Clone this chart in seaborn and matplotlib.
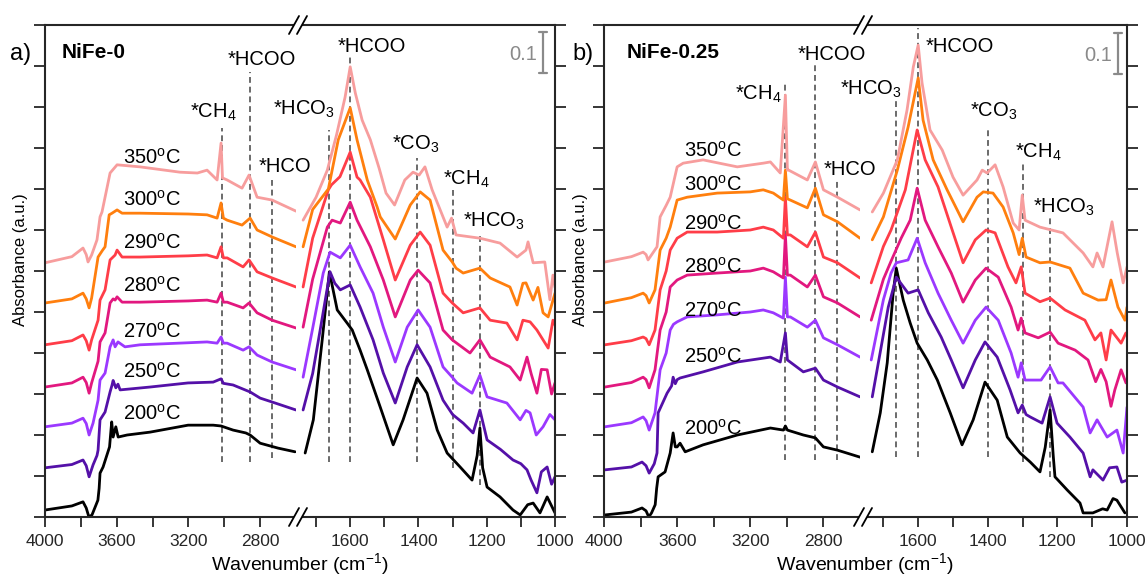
import matplotlib
matplotlib.use("Agg")
import matplotlib.pyplot as plt
import pandas as pd
import seaborn as sns
from matplotlib.lines import Line2D
from matplotlib.patches import Rectangle

# ---------------- data ----------------
TEMPS = [200, 250, 270, 280, 290, 300, 350]
COLORS = ["#000000", "#5410a8", "#9b38ff", "#e2187f", "#ff3d48", "#ff7f0e", "#f79d9d"]

# Panel a (NiFe-0), high-wavenumber segment (4000-2600 cm-1): (wavenumber, absorbance)
a_L_200 = [(4000,0.017),(3850,0.027),(3788,0.037),(3770,0.022),(3755,0.0),(3738,0.005),(3715,0.030),(3705,0.041),(3698,0.070),(3693,0.107),(3676,0.122),(3640,0.171),(3628,0.232),(3620,0.195),(3605,0.220),(3592,0.195),(3542,0.200),(3414,0.207),(3202,0.224),(3062,0.224),(3018,0.222),(2951,0.212),(2880,0.205),(2856,0.200),(2800,0.180),(2700,0.168),(2605,0.159)]
a_L_250 = [(4000,0.120),(3850,0.128),(3788,0.139),(3770,0.125),(3754,0.098),(3732,0.127),(3710,0.150),(3704,0.163),(3693,0.237),(3665,0.256),(3637,0.305),(3626,0.322),(3620,0.333),(3605,0.315),(3593,0.324),(3581,0.310),(3414,0.317),(3202,0.327),(3062,0.329),(3018,0.337),(3005,0.326),(2951,0.322),(2856,0.305),(2800,0.290),(2730,0.280),(2600,0.261)]
a_L_270 = [(4000,0.220),(3850,0.229),(3788,0.241),(3770,0.228),(3754,0.200),(3732,0.229),(3704,0.285),(3693,0.334),(3665,0.351),(3637,0.415),(3620,0.432),(3609,0.415),(3593,0.427),(3554,0.415),(3470,0.420),(3200,0.425),(3096,0.427),(3040,0.424),(3018,0.439),(3005,0.424),(2984,0.424),(2895,0.407),(2862,0.415),(2817,0.395),(2733,0.378),(2600,0.359)]
a_L_280 = [(4000,0.317),(3850,0.327),(3788,0.341),(3770,0.328),(3754,0.302),(3740,0.327),(3704,0.380),(3693,0.427),(3665,0.449),(3637,0.522),(3620,0.532),(3609,0.529),(3598,0.537),(3570,0.524),(3470,0.524),(3200,0.527),(3096,0.529),(3040,0.524),(3018,0.546),(3005,0.524),(2984,0.524),(2895,0.510),(2862,0.522),(2817,0.498),(2733,0.480),(2600,0.461)]
a_L_290 = [(4000,0.420),(3850,0.430),(3788,0.444),(3770,0.430),(3754,0.407),(3740,0.432),(3704,0.480),(3693,0.529),(3665,0.554),(3637,0.627),(3609,0.639),(3598,0.651),(3570,0.634),(3470,0.634),(3200,0.637),(3096,0.639),(3040,0.632),(3018,0.659),(3005,0.632),(2984,0.632),(2895,0.610),(2862,0.627),(2817,0.598),(2733,0.583),(2600,0.561)]
a_L_300 = [(4000,0.522),(3850,0.532),(3788,0.546),(3770,0.532),(3754,0.510),(3740,0.534),(3704,0.634),(3680,0.650),(3665,0.659),(3642,0.737),(3626,0.741),(3598,0.749),(3570,0.741),(3470,0.741),(3200,0.739),(3096,0.737),(3040,0.729),(3018,0.766),(3005,0.729),(2984,0.724),(2901,0.712),(2856,0.729),(2817,0.700),(2733,0.683),(2600,0.659)]
a_L_350 = [(4000,0.620),(3850,0.635),(3788,0.656),(3770,0.640),(3760,0.622),(3740,0.639),(3710,0.676),(3693,0.732),(3682,0.744),(3637,0.839),(3598,0.859),(3470,0.854),(3247,0.841),(3150,0.839),(3096,0.846),(3040,0.822),(3018,0.912),(3010,0.827),(2984,0.822),(2901,0.802),(2862,0.834),(2817,0.780),(2733,0.773),(2600,0.746)]

# Panel a, low-wavenumber segment (1750-1000 cm-1)
a_R_200 = [(1732,0.156),(1708,0.237),(1682,0.432),(1661,0.598),(1638,0.505),(1609,0.473),(1594,0.456),(1571,0.407),(1550,0.359),(1512,0.268),(1474,0.176),(1445,0.237),(1404,0.339),(1375,0.302),(1345,0.212),(1316,0.156),(1278,0.122),(1243,0.090),(1228,0.150),(1220,0.217),(1212,0.120),(1199,0.073),(1161,0.049),(1123,0.017),(1102,0.005),(1080,0.030),(1064,0.034),(1044,0.010),(1023,0.049),(1000,0.010)]
a_R_250 = [(1738,0.261),(1710,0.350),(1688,0.456),(1659,0.598),(1645,0.570),(1629,0.554),(1600,0.566),(1571,0.512),(1533,0.432),(1503,0.351),(1468,0.278),(1433,0.366),(1404,0.420),(1366,0.366),(1328,0.285),(1300,0.250),(1269,0.229),(1240,0.205),(1220,0.261),(1199,0.188),(1160,0.165),(1123,0.139),(1100,0.130),(1082,0.115),(1070,0.090),(1053,0.059),(1040,0.110),(1023,0.122),(1010,0.080),(1000,0.098)]
a_R_270 = [(1738,0.341),(1710,0.460),(1679,0.595),(1659,0.646),(1629,0.632),(1600,0.663),(1571,0.610),(1533,0.546),(1503,0.463),(1468,0.378),(1433,0.463),(1401,0.505),(1366,0.463),(1328,0.366),(1300,0.340),(1287,0.327),(1243,0.302),(1220,0.346),(1199,0.293),(1141,0.278),(1102,0.237),(1085,0.260),(1073,0.254),(1055,0.200),(1035,0.220),(1015,0.250),(1000,0.237)]
a_R_280 = [(1738,0.463),(1710,0.580),(1667,0.707),(1653,0.724),(1629,0.717),(1600,0.768),(1580,0.724),(1541,0.659),(1503,0.578),(1468,0.488),(1424,0.578),(1401,0.602),(1366,0.571),(1328,0.456),(1301,0.432),(1249,0.400),(1220,0.432),(1190,0.390),(1132,0.366),(1102,0.334),(1082,0.390),(1070,0.350),(1053,0.302),(1040,0.360),(1023,0.359),(1010,0.300),(1000,0.327)]
a_R_290 = [(1738,0.561),(1710,0.680),(1664,0.798),(1655,0.810),(1630,0.830),(1600,0.890),(1580,0.829),(1571,0.822),(1541,0.780),(1503,0.676),(1468,0.578),(1424,0.663),(1395,0.695),(1366,0.663),(1328,0.546),(1301,0.522),(1269,0.498),(1220,0.510),(1190,0.480),(1141,0.473),(1111,0.432),(1094,0.480),(1073,0.476),(1053,0.456),(1035,0.432),(1020,0.412),(1006,0.480),(1000,0.468)]
a_R_300 = [(1738,0.659),(1710,0.750),(1664,0.800),(1635,0.920),(1600,0.998),(1580,0.920),(1550,0.822),(1521,0.756),(1512,0.732),(1468,0.678),(1424,0.761),(1395,0.793),(1366,0.773),(1328,0.651),(1301,0.622),(1290,0.607),(1269,0.595),(1220,0.607),(1190,0.583),(1132,0.561),(1111,0.517),(1094,0.570),(1085,0.571),(1064,0.529),(1050,0.560),(1035,0.498),(1020,0.488),(1000,0.546)]
a_R_350 = [(1738,0.724),(1700,0.780),(1667,0.846),(1640,0.932),(1615,1.024),(1600,1.098),(1585,1.034),(1565,0.968),(1541,0.920),(1515,0.850),(1495,0.790),(1470,0.761),(1440,0.822),(1416,0.841),(1398,0.834),(1381,0.854),(1360,0.798),(1316,0.707),(1303,0.729),(1290,0.688),(1220,0.680),(1161,0.668),(1111,0.634),(1085,0.651),(1079,0.671),(1064,0.620),(1030,0.622),(1015,0.530),(1006,0.590),(1000,0.560)]

# Panel b (NiFe-0.25), high-wavenumber segment
b_L_200 = [(3995,0.005),(3850,0.012),(3792,0.022),(3770,0.015),(3755,0.0),(3740,0.010),(3720,0.030),(3712,0.070),(3704,0.098),(3666,0.110),(3638,0.156),(3622,0.205),(3610,0.171),(3600,0.171),(3584,0.180),(3556,0.159),(3458,0.176),(3271,0.200),(3090,0.217),(3019,0.212),(3008,0.222),(2997,0.212),(2910,0.200),(2844,0.193),(2800,0.171),(2723,0.163),(2600,0.146)]
b_L_250 = [(3995,0.115),(3850,0.122),(3792,0.134),(3770,0.125),(3753,0.107),(3725,0.130),(3710,0.156),(3704,0.254),(3655,0.302),(3630,0.320),(3622,0.341),(3610,0.325),(3600,0.335),(3584,0.339),(3458,0.354),(3271,0.378),(3090,0.390),(3036,0.378),(3008,0.449),(2997,0.383),(2910,0.354),(2844,0.363),(2800,0.334),(2723,0.317),(2600,0.293)]
b_L_270 = [(3995,0.220),(3850,0.230),(3786,0.244),(3770,0.235),(3753,0.212),(3721,0.254),(3693,0.359),(3660,0.400),(3638,0.456),(3620,0.470),(3600,0.476),(3545,0.488),(3381,0.493),(3200,0.500),(3129,0.505),(3074,0.498),(3019,0.485),(3008,0.585),(2997,0.488),(2981,0.488),(2888,0.463),(2844,0.480),(2800,0.437),(2723,0.420),(2600,0.390)]
b_L_280 = [(3995,0.317),(3850,0.328),(3786,0.341),(3770,0.335),(3753,0.315),(3721,0.359),(3693,0.456),(3660,0.500),(3638,0.561),(3600,0.578),(3545,0.590),(3381,0.595),(3200,0.600),(3129,0.607),(3074,0.598),(3019,0.583),(3008,0.688),(2997,0.590),(2981,0.590),(2888,0.561),(2844,0.590),(2800,0.537),(2723,0.522),(2600,0.488)]
b_L_290 = [(3995,0.420),(3850,0.430),(3786,0.439),(3770,0.435),(3753,0.420),(3721,0.456),(3693,0.554),(3660,0.600),(3638,0.651),(3600,0.680),(3545,0.695),(3381,0.695),(3200,0.700),(3129,0.707),(3074,0.700),(3019,0.680),(3008,0.780),(2997,0.688),(2981,0.688),(2888,0.659),(2844,0.695),(2800,0.634),(2723,0.620),(2600,0.583)]
b_L_300 = [(3995,0.522),(3850,0.535),(3786,0.546),(3770,0.540),(3753,0.522),(3721,0.554),(3693,0.651),(3660,0.680),(3638,0.707),(3600,0.773),(3545,0.780),(3381,0.790),(3200,0.793),(3129,0.798),(3074,0.790),(3019,0.773),(3008,0.846),(2997,0.776),(2981,0.773),(2888,0.754),(2844,0.802),(2800,0.737),(2723,0.720),(2600,0.680)]
b_L_350 = [(3995,0.622),(3850,0.635),(3786,0.646),(3770,0.640),(3759,0.627),(3710,0.659),(3693,0.732),(3660,0.760),(3638,0.780),(3600,0.854),(3567,0.863),(3458,0.871),(3271,0.854),(3129,0.863),(3090,0.866),(3036,0.839),(3008,1.029),(2997,0.846),(2990,0.846),(2888,0.822),(2844,0.866),(2800,0.798),(2723,0.780),(2600,0.749)]

# Panel b, low-wavenumber segment
b_R_200 = [(1732,0.159),(1709,0.254),(1689,0.376),(1672,0.546),(1663,0.607),(1643,0.529),(1623,0.473),(1603,0.424),(1574,0.383),(1545,0.334),(1508,0.254),(1474,0.176),(1442,0.237),(1408,0.329),(1373,0.285),(1344,0.195),(1307,0.156),(1278,0.134),(1250,0.110),(1235,0.170),(1221,0.261),(1212,0.150),(1207,0.098),(1172,0.066),(1135,0.034),(1126,0.010),(1098,0.010),(1070,0.020),(1057,0.017),(1040,0.045),(1029,0.041),(1006,0.010)]
b_R_250 = [(1732,0.293),(1686,0.512),(1663,0.585),(1629,0.546),(1600,0.554),(1571,0.498),(1534,0.439),(1505,0.383),(1471,0.315),(1436,0.383),(1408,0.427),(1373,0.390),(1336,0.310),(1313,0.254),(1301,0.273),(1290,0.250),(1278,0.244),(1244,0.229),(1221,0.293),(1201,0.229),(1164,0.195),(1126,0.156),(1106,0.098),(1098,0.115),(1069,0.090),(1050,0.120),(1029,0.122),(1015,0.085),(1000,0.090)]
b_R_270 = [(1735,0.383),(1700,0.530),(1678,0.595),(1663,0.620),(1629,0.627),(1603,0.680),(1580,0.620),(1543,0.546),(1505,0.480),(1471,0.424),(1436,0.480),(1405,0.512),(1370,0.480),(1333,0.400),(1313,0.341),(1304,0.376),(1293,0.334),(1247,0.334),(1221,0.366),(1198,0.327),(1184,0.327),(1126,0.268),(1106,0.205),(1086,0.237),(1057,0.195),(1029,0.212),(1011,0.156),(1000,0.268)]
b_R_280 = [(1735,0.480),(1700,0.580),(1678,0.624),(1649,0.680),(1623,0.724),(1603,0.802),(1580,0.724),(1543,0.659),(1505,0.595),(1471,0.524),(1436,0.578),(1405,0.607),(1370,0.585),(1333,0.512),(1313,0.456),(1304,0.485),(1293,0.449),(1255,0.437),(1221,0.451),(1198,0.424),(1149,0.407),(1112,0.383),(1090,0.330),(1075,0.360),(1060,0.330),(1046,0.270),(1035,0.310),(1017,0.359),(1003,0.327)]
b_R_290 = [(1735,0.571),(1700,0.660),(1678,0.700),(1637,0.798),(1603,0.944),(1580,0.871),(1543,0.805),(1505,0.707),(1471,0.620),(1436,0.676),(1405,0.700),(1379,0.693),(1342,0.610),(1319,0.571),(1304,0.610),(1293,0.546),(1250,0.525),(1221,0.534),(1178,0.505),(1121,0.480),(1092,0.432),(1075,0.449),(1060,0.383),(1046,0.456),(1017,0.424),(1003,0.449)]
b_R_300 = [(1732,0.676),(1700,0.732),(1660,0.846),(1629,0.951),(1600,1.071),(1586,0.968),(1557,0.871),(1517,0.798),(1488,0.749),(1471,0.720),(1431,0.780),(1413,0.793),(1385,0.790),(1356,0.756),(1327,0.693),(1310,0.640),(1301,0.680),(1290,0.634),(1250,0.620),(1221,0.622),(1164,0.607),(1126,0.546),(1083,0.529),(1060,0.530),(1046,0.578),(1026,0.512),(1006,0.480),(1000,0.512)]
b_R_350 = [(1732,0.744),(1700,0.790),(1660,0.871),(1632,0.993),(1614,1.098),(1600,1.151),(1589,1.059),(1566,0.944),(1531,0.895),(1500,0.829),(1471,0.785),(1431,0.822),(1416,0.846),(1402,0.839),(1379,0.859),(1356,0.805),(1327,0.717),(1310,0.700),(1301,0.785),(1293,0.724),(1250,0.707),(1184,0.693),(1126,0.644),(1098,0.610),(1086,0.644),(1069,0.610),(1043,0.720),(1028,0.644),(1011,0.571),(1000,0.610)]

# axis ranges / ticks
XLIM_HIGH = (4000, 2600)
XLIM_LOW = (1750, 1000)
XTICKS_HIGH = [4000, 3800, 3600, 3400, 3200, 3000, 2800]
XTICKLABELS_HIGH = ["4000", "", "3600", "", "3200", "", "2800"]
XTICKS_LOW = [1700, 1600, 1500, 1400, 1300, 1200, 1100, 1000]
XTICKLABELS_LOW = ["", "1600", "", "1400", "", "1200", "", "1000"]
YLIM = (0, 1.2)
YTICKS = [0, 0.1, 0.2, 0.3, 0.4, 0.5, 0.6, 0.7, 0.8, 0.9, 1.0, 1.1, 1.2]

# assignment markers: (wavenumber, top, bottom)
a_lines_high = [(3015, 0.949, 0.134), (2855, 1.085, 0.134), (2732, 0.822, 0.144)]
a_lines_low = [(1662, 0.944, 0.134), (1600, 1.127, 0.134), (1404, 0.876, 0.134), (1300, 0.798, 0.120), (1220, 0.693, 0.078)]
b_lines_high = [(3008, 1.059, 0.139), (2845, 1.102, 0.139), (2725, 0.822, 0.139)]
b_lines_low = [(1663, 1.017, 0.146), (1600, 1.193, 0.146), (1400, 0.951, 0.146), (1300, 0.863, 0.134), (1220, 0.729, 0.098)]

# assignment labels: (text, x, baseline y)
a_text_high = [("*CH$_4$", 3191, 0.973), ("*HCOO", 2979, 1.102), ("*HCO", 2811, 0.841)]
a_text_low = [("*HCO$_3$", 1825, 0.980), ("*HCOO", 1638, 1.134), ("*CO$_3$", 1477, 0.895), ("*CH$_4$", 1328, 0.810), ("*HCO$_3$", 1269, 0.707)]
b_text_high = [("*CH$_4$", 3282, 1.017), ("*HCOO", 2942, 1.115), ("*HCO", 2800, 0.834)]
b_text_low = [("*HCO$_3$", 1824, 1.029), ("*HCOO", 1580, 1.134), ("*CO$_3$", 1451, 0.976), ("*CH$_4$", 1322, 0.876), ("*HCO$_3$", 1270, 0.741)]

# temperature labels (baseline y), x position
a_temp_y = [0.237, 0.339, 0.437, 0.549, 0.654, 0.759, 0.861]
b_temp_y = [0.200, 0.376, 0.488, 0.595, 0.700, 0.795, 0.878]
a_temp_x = 3565
b_temp_x = 3560

SCALE = 0.1
a_scale = (1035, 1.083)   # x, bottom
b_scale = (1026, 1.080)

# ---------------- style ----------------
sns.set_style("ticks")
plt.rcParams["font.family"] = ["Liberation Sans", "DejaVu Sans"]
plt.rcParams["mathtext.fontset"] = "custom"
plt.rcParams["mathtext.rm"] = "Liberation Sans"
plt.rcParams["mathtext.it"] = "Liberation Sans:italic"
plt.rcParams["mathtext.bf"] = "Liberation Sans:bold"
plt.rcParams["mathtext.default"] = "regular"
plt.rcParams["axes.linewidth"] = 1.5
plt.rcParams["text.color"] = "black"

W, H = 1146, 575
fig = plt.figure(figsize=(W / 100, H / 100), dpi=100)


def rect(x0, x1, y0=25, y1=517):
    return [x0 / W, 1 - y1 / H, (x1 - x0) / W, (y1 - y0) / H]


def to_df(series):
    rows = []
    for t, pts in zip(TEMPS, series):
        for wn, a in pts:
            rows.append((str(t), wn, a))
    return pd.DataFrame(rows, columns=["T", "wn", "A"])


PALETTE = {str(t): c for t, c in zip(TEMPS, COLORS)}
HUE_ORDER = [str(t) for t in TEMPS]
DASH_COLOR = "#6a6a6a"


def draw_segment(ax, series, xlim, xticks, xlabels, side, vlines, texts):
    ax.patch.set_visible(False)
    for wn, top, bot in vlines:
        ax.vlines(wn, bot, top, colors=DASH_COLOR, linestyles=(0, (3, 2)), lw=1.4, zorder=1)
    sns.lineplot(data=to_df(series), x="wn", y="A", hue="T", palette=PALETTE,
                 hue_order=HUE_ORDER, estimator=None, sort=False, lw=2.0,
                 legend=False, ax=ax, zorder=2)
    ax.set_xlim(*xlim)
    ax.set_ylim(*YLIM)
    ax.set_xticks(xticks)
    ax.set_xticklabels(xlabels)
    ax.set_yticks(YTICKS)
    ax.set_yticklabels([])
    ax.set_xlabel("")
    ax.set_ylabel("")
    ax.tick_params(axis="x", direction="out", length=7, width=1.3, labelsize=12.5, pad=5, top=False)
    if side == "left":
        ax.spines["right"].set_visible(False)
        ax.tick_params(axis="y", direction="out", length=8, width=1.3, left=True, right=False)
    else:
        ax.spines["left"].set_visible(False)
        ax.yaxis.set_ticks_position("right")
        ax.tick_params(axis="y", direction="out", length=8, width=1.3, left=False, right=True,
                       labelright=False)
    for txt, x, y in texts:
        ax.text(x, y, txt, fontsize=14.5, ha="left", va="baseline", clip_on=False, zorder=5)


def break_marks(xc):
    for y in (25, 517):
        fig.add_artist(Rectangle(((xc - 4) / W, 1 - (y + 3) / H), 8 / W, 6 / H,
                                 transform=fig.transFigure, facecolor="white",
                                 edgecolor="none", zorder=20))
        for dx in (-4, 4):
            x = xc + dx
            fig.add_artist(Line2D([(x - 5) / W, (x + 5) / W], [1 - (y + 9) / H, 1 - (y - 9) / H],
                                  transform=fig.transFigure, color="black", lw=1.3, zorder=21))


panels = [
    dict(hx=(45, 296), lx=(299, 555), brk=298,
         high=[a_L_200, a_L_250, a_L_270, a_L_280, a_L_290, a_L_300, a_L_350],
         low=[a_R_200, a_R_250, a_R_270, a_R_280, a_R_290, a_R_300, a_R_350],
         vh=a_lines_high, vl=a_lines_low, th=a_text_high, tl=a_text_low,
         ty=a_temp_y, tx=a_temp_x, scale=a_scale, tag="a)", name="NiFe-0",
         tagx=10, namex=62, ylab=21, xlab=300),
    dict(hx=(604, 860), lx=(866, 1127), brk=863,
         high=[b_L_200, b_L_250, b_L_270, b_L_280, b_L_290, b_L_300, b_L_350],
         low=[b_R_200, b_R_250, b_R_270, b_R_280, b_R_290, b_R_300, b_R_350],
         vh=b_lines_high, vl=b_lines_low, th=b_text_high, tl=b_text_low,
         ty=b_temp_y, tx=b_temp_x, scale=b_scale, tag="b)", name="NiFe-0.25",
         tagx=572, namex=627, ylab=580, xlab=865),
]

for p in panels:
    axh = fig.add_axes(rect(*p["hx"]))
    axl = fig.add_axes(rect(*p["lx"]))
    draw_segment(axh, p["high"], XLIM_HIGH, XTICKS_HIGH, XTICKLABELS_HIGH, "left", p["vh"], p["th"])
    draw_segment(axl, p["low"], XLIM_LOW, XTICKS_LOW, XTICKLABELS_LOW, "right", p["vl"], p["tl"])
    for t, y in zip(TEMPS, p["ty"]):
        axh.text(p["tx"], y, f"{t}$^o$C", fontsize=14.5, ha="left", va="baseline", zorder=5)
    # scale bar
    sx, sy = p["scale"]
    axl.plot([sx, sx], [sy, sy + SCALE], color="#8a8a8a", lw=1.6, clip_on=False, zorder=5)
    for yy in (sy, sy + SCALE):
        axl.plot([sx - 12, sx + 12], [yy, yy], color="#8a8a8a", lw=1.6, clip_on=False, zorder=5)
    axl.text(sx + 18, sy + 0.032, f"{SCALE:g}", color="#8a8a8a", fontsize=14.5,
             ha="right", va="baseline", zorder=5)
    break_marks(p["brk"])
    fig.text(p["tagx"] / W, 1 - 60 / H, p["tag"], fontsize=17, ha="left", va="baseline")
    fig.text(p["namex"] / W, 1 - 58 / H, p["name"], fontsize=15, fontweight="bold",
             ha="left", va="baseline")
    fig.text(p["ylab"] / W, 1 - 260 / H, "Absorbance (a.u.)", fontsize=12, rotation=90,
             ha="center", va="center")
    fig.text(p["xlab"] / W, 1 - 570 / H, "Wavenumber (cm$^{-1}$)", fontsize=14,
             ha="center", va="baseline")

fig.savefig("out.png", dpi=100)
